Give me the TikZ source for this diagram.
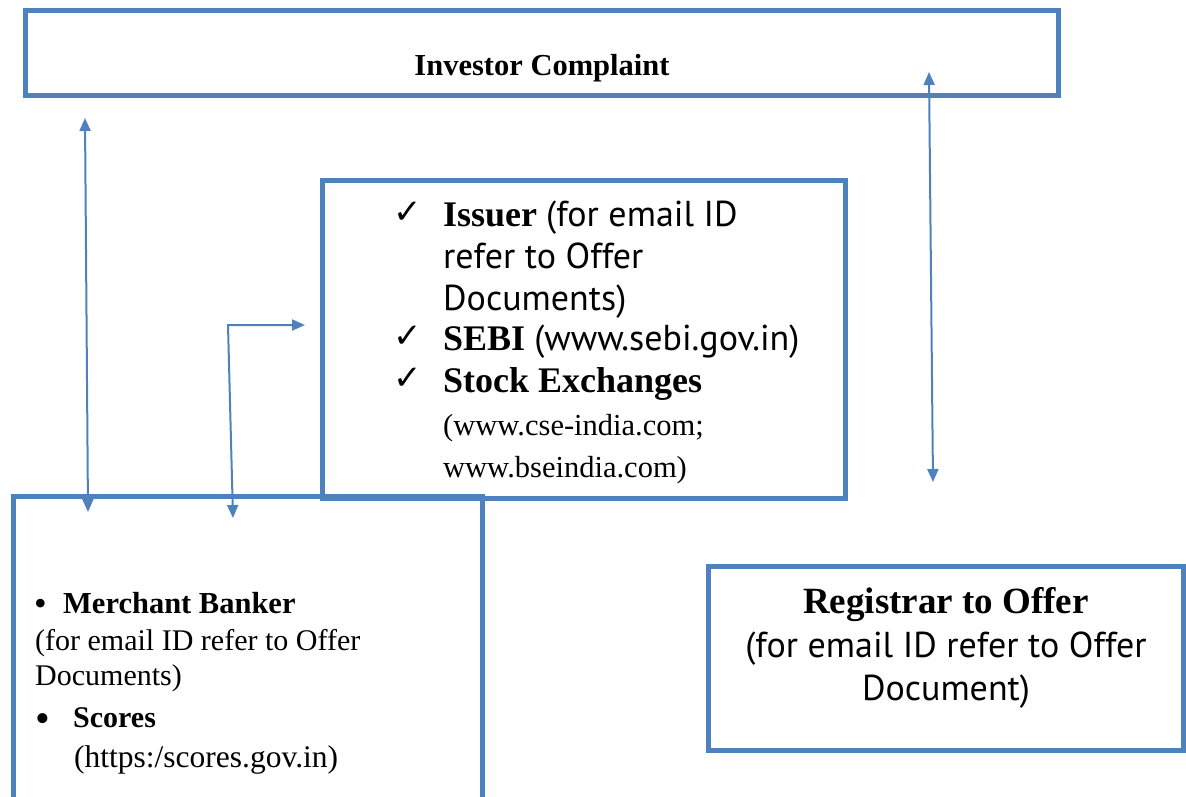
\documentclass[tikz,border=0pt]{standalone}
\usepackage{fontspec}
\setmainfont{Liberation Serif}
\newfontfamily\sansf{PT Sans}
\newfontfamily\symf{DejaVu Sans}
\usetikzlibrary{arrows.meta}
\definecolor{obl}{RGB}{79,129,189}
\begin{document}
\begin{tikzpicture}[x=1pt,y=-1pt,
  box/.style={draw=obl, line width=5pt, inner sep=0pt, outer sep=0pt},
  link/.style={draw=obl, line width=2pt,
     {Triangle[length=13pt,width=11pt]}-{Triangle[length=13pt,width=11pt]}},
  txt/.style={anchor=base west, inner sep=0pt},
  ctxt/.style={anchor=base, inner sep=0pt},
  chk/.style={anchor=base west, inner sep=0pt, font=\symf\bfseries\fontsize{34}{36}\selectfont}]
\useasboundingbox (0,0) rectangle (1186,796);
\clip (0,0) rectangle (1186,796);
% boxes
\node[box, minimum width=1033pt, minimum height=85pt] (top) at (541.5,52.5) {};
\node[box, minimum width=523pt, minimum height=318pt] (mid) at (583.5,339) {};
\node[box, minimum width=469pt, minimum height=344pt] (left) at (247.5,668) {};
\node[box, minimum width=475pt, minimum height=184pt] (reg) at (945.5,658) {};
% top text
\node[ctxt, font=\bfseries\fontsize{30.5}{36}\selectfont] (tIC) at (542,75) {Investor Complaint};
% middle text
\node[chk] (c1) at (393,223) {✓};
\node[chk] (c2) at (393,347) {✓};
\node[chk] (c3) at (393,389) {✓};
\node[txt, font=\fontsize{36}{40}\selectfont] (m1) at (443,226) {\textbf{Issuer} {\sansf\fontsize{36}{40}\selectfont (for email ID}};
\node[txt, font=\sansf\fontsize{36}{40}\selectfont] (m2) at (443,268) {refer to Offer};
\node[txt, font=\sansf\fontsize{36}{40}\selectfont] (m3) at (443,310) {Documents)};
\node[txt, font=\fontsize{36}{40}\selectfont] (m4) at (443,350) {\textbf{SEBI} {\sansf\fontsize{36}{40}\selectfont (www.sebi.gov.in)}};
\node[txt, font=\bfseries\fontsize{36}{40}\selectfont] (m5) at (443,392) {Stock Exchanges};
\node[txt, font=\fontsize{30.5}{36}\selectfont] (m6) at (443,435) {(www.cse-india.com;};
\node[txt, font=\fontsize{30.5}{36}\selectfont] (m7) at (443,477) {www.bseindia.com)};
% left text
\node[txt, font=\fontsize{36}{40}\selectfont] (b1) at (34,615) {•};
\node[txt, font=\bfseries\fontsize{30.5}{36}\selectfont] (l1) at (63,613) {Merchant Banker};
\node[txt, font=\fontsize{30}{36}\selectfont] (l2) at (35,650) {(for email ID refer to Offer};
\node[txt, font=\fontsize{30}{36}\selectfont] (l3) at (35,685) {Documents)};
\node[txt, font=\fontsize{42}{46}\selectfont] (b2) at (35,732) {•};
\node[txt, font=\bfseries\fontsize{30}{36}\selectfont] (l4) at (73,727) {Scores};
\node[txt, font=\fontsize{31.5}{36}\selectfont] (l5) at (74,767) {(https:/scores.gov.in)};
% registrar text
\node[ctxt, font=\bfseries\fontsize{37}{40}\selectfont] (r1) at (946,613) {Registrar to Offer};
\node[ctxt, font=\sansf\fontsize{36}{40}\selectfont] (r2) at (946,657) {(for email ID refer to Offer};
\node[ctxt, font=\sansf\fontsize{36}{40}\selectfont] (r3) at (946,700) {Document)};
% connectors
\coordinate (a1u) at (85,118);
\coordinate (a1d) at (88,512);
\draw[link] (a1d) -- (a1u);
\coordinate (a2r) at (305,325);
\coordinate (a2c) at (228,325);
\coordinate (a2d) at (233,518);
\draw[link] (a2r) -- (a2c) -- (a2d);
\coordinate (a3u) at (929,72);
\coordinate (a3d) at (933,482);
\draw[link] (a3d) -- (a3u);
\end{tikzpicture}
\end{document}
